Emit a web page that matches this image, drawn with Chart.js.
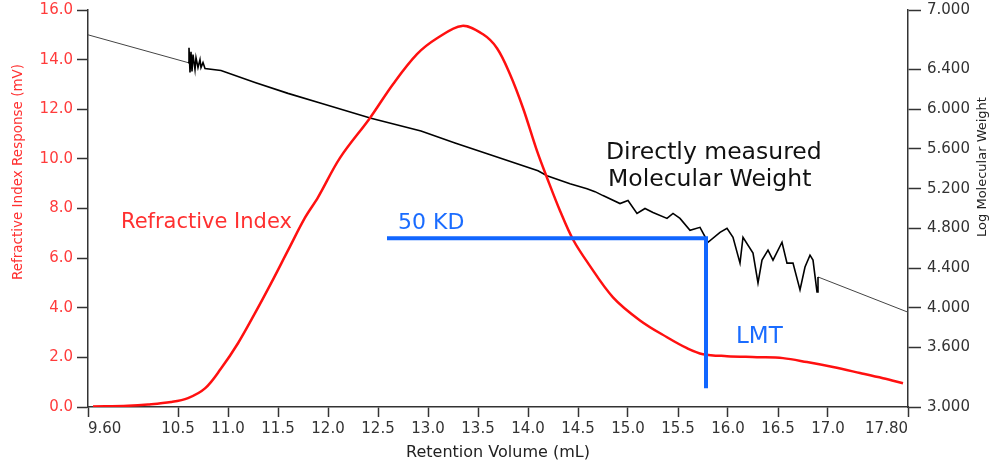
<!DOCTYPE html>
<html>
<head>
<meta charset="utf-8">
<script src="https://cdn.jsdelivr.net/npm/chart.js@4"></script>
<style>
  body { margin: 0; background: #fff; }
  canvas { display: block; }
</style>
</head>
<body>
<canvas id="myChart" width="992" height="463"></canvas>
<script>
// refractive index trace (left axis, mV)
const riVolume = [9.65, 10.0, 10.2, 10.43, 10.6, 10.77, 10.93, 11.1, 11.27, 11.43, 11.6, 11.77, 11.9, 12.12, 12.42, 12.65, 12.89, 13.09, 13.34,
    13.55, 13.69, 13.82, 13.95, 14.09, 14.19, 14.32, 14.45, 14.6, 14.85, 15.12, 15.39, 15.59, 15.75, 15.99, 16.29, 16.55, 16.79, 17.05, 17.32, 17.55, 17.75];
const riResponse = [0.02, 0.05, 0.1, 0.2, 0.36, 0.75, 1.55, 2.57, 3.78, 4.98, 6.31, 7.63, 8.45, 10.04, 11.65, 13.01, 14.22, 14.86, 15.36,
    15.02, 14.46, 13.41, 12.05, 10.32, 9.24, 7.91, 6.75, 5.8, 4.42, 3.49, 2.81, 2.37, 2.13, 2.05, 2.01, 1.97, 1.81, 1.61, 1.37, 1.16, 0.96];

// directly measured molecular weight (right axis, log MW)
const mwVolume = [10.6, 10.61, 10.62, 10.63, 10.64, 10.65, 10.67, 10.68, 10.7, 10.72, 10.73, 10.75, 10.77, 10.93, 11.27, 11.6, 11.93, 12.43, 12.93, 13.27, 13.6, 14.1,
    14.19, 14.42, 14.59, 14.67, 14.75, 14.92, 15.0, 15.09, 15.17, 15.25, 15.39, 15.45, 15.52, 15.62, 15.72, 15.8, 15.92, 15.99, 16.05, 16.12, 16.15, 16.25, 16.3, 16.34,
    16.4, 16.45, 16.54, 16.59, 16.65, 16.72, 16.77, 16.82, 16.85, 16.89, 16.9];
const mwLog = [6.47, 6.62, 6.37, 6.58, 6.38, 6.55, 6.4, 6.52, 6.42, 6.5, 6.42, 6.47, 6.41, 6.39, 6.27, 6.16, 6.06, 5.91, 5.78, 5.66, 5.55, 5.38,
    5.33, 5.25, 5.2, 5.17, 5.13, 5.05, 5.08, 4.95, 5.0, 4.96, 4.9, 4.95, 4.9, 4.78, 4.81, 4.66, 4.76, 4.8, 4.71, 4.45, 4.71, 4.55, 4.25, 4.48,
    4.58, 4.48, 4.66, 4.45, 4.45, 4.18, 4.41, 4.53, 4.48, 4.16, 4.31];

// calibration extrapolation on both sides of the measured range (right axis)
const fitVolume = [9.6, 10.6, null, 16.9, 17.8];
const fitLog = [6.75, 6.47, null, 4.31, 3.955];

// 50 KD / LMT marker (left axis)
const markVolume = [12.59, 15.78, 15.78];
const markResponse = [6.8, 6.8, 0.76];

const xTicks = [9.6, 10.5, 11.0, 11.5, 12.0, 12.5, 13.0, 13.5, 14.0, 14.5, 15.0, 15.5, 16.0, 16.5, 17.0, 17.8];
const xTickLabels = ['9.60', '10.5', '11.0', '11.5', '12.0', '12.5', '13.0', '13.5', '14.0', '14.5', '15.0', '15.5', '16.0', '16.5', '17.0', '17.80'];
const y2Ticks = [3.0, 3.6, 4.0, 4.4, 4.8, 5.2, 5.6, 6.0, 6.4, 7.0];

const pts = (xs, ys) => xs.map((v, i) => ({x: v, y: ys[i]}));

const FONT = "'DejaVu Sans', sans-serif";
Chart.defaults.font.family = FONT;

const notes = [
    {text: 'Refractive Index', x: 9.93, y: 7.23, size: 21, color: '#ff3030'},
    {text: 'Directly measured', x: 14.78, y: 10.0, size: 23.5, color: '#111'},
    {text: 'Molecular Weight', x: 14.80, y: 8.92, size: 23.5, color: '#111'},
    {text: '50 KD', x: 12.70, y: 7.19, size: 22, color: '#1a6cff'},
    {text: 'LMT', x: 16.08, y: 2.57, size: 23, color: '#1a6cff'},
];

const notesPlugin = {
    id: 'notes',
    afterDraw(chart) {
        const {ctx, scales} = chart;
        ctx.save();
        ctx.textAlign = 'left';
        ctx.textBaseline = 'alphabetic';
        notes.forEach(n => {
            ctx.font = n.size + 'px ' + FONT;
            ctx.fillStyle = n.color;
            ctx.fillText(n.text, scales.x.getPixelForValue(n.x), scales.y.getPixelForValue(n.y));
        });
        // vertical axis titles
        ctx.textAlign = 'center';
        ctx.textBaseline = 'middle';
        ctx.font = '13.5px ' + FONT;
        ctx.fillStyle = '#ff3030';
        ctx.translate(18, 172);
        ctx.rotate(-Math.PI / 2);
        ctx.fillText('Refractive Index Response (mV)', 0, 0);
        ctx.setTransform(1, 0, 0, 1, 0, 0);
        ctx.font = '13px ' + FONT;
        ctx.fillStyle = '#222';
        ctx.translate(983, 167);
        ctx.rotate(-Math.PI / 2);
        ctx.fillText('Log Molecular Weight', 0, 0);
        ctx.restore();
    }
};

const axisGrid = len => ({drawOnChartArea: false, drawTicks: true, tickLength: len, tickColor: '#333', tickWidth: 1.5});
const axisBorder = {display: true, color: '#333', width: 1.5};
const fitVertical = w => axis => { axis.width = w; axis.paddingTop = 0; axis.paddingBottom = 0; };

const config = {
    type: 'line',
    data: {
        datasets: [
            {
                label: 'LMT marker',
                data: pts(markVolume, markResponse),
                yAxisID: 'y',
                borderColor: '#1166ff',
                borderWidth: 4,
                pointRadius: 0,
                tension: 0,
            },
            {
                label: 'Refractive Index',
                data: pts(riVolume, riResponse),
                yAxisID: 'y',
                borderColor: '#ff1010',
                borderWidth: 2.5,
                pointRadius: 0,
                tension: 0.35,
            },
            {
                label: 'Molecular Weight',
                data: pts(mwVolume, mwLog),
                yAxisID: 'y2',
                borderColor: '#000',
                borderWidth: 1.6,
                pointRadius: 0,
                tension: 0,
            },
            {
                label: 'Calibration',
                data: pts(fitVolume, fitLog),
                yAxisID: 'y2',
                borderColor: '#444',
                borderWidth: 1,
                pointRadius: 0,
                tension: 0,
                spanGaps: false,
            },
        ]
    },
    options: {
        responsive: false,
        animation: false,
        devicePixelRatio: 1,
        layout: {padding: {top: 10}},
        plugins: {legend: {display: false}, tooltip: {enabled: false}},
        scales: {
            x: {
                type: 'linear',
                position: 'bottom',
                min: 9.6,
                max: 17.8,
                afterBuildTicks: axis => { axis.ticks = xTicks.map(v => ({value: v})); },
                afterFit: axis => { axis.height = 56; axis.paddingLeft = 0; axis.paddingRight = 0; },
                grid: axisGrid(10),
                border: axisBorder,
                ticks: {
                    color: '#333',
                    font: {size: 15},
                    padding: 3,
                    align: 'inner',
                    maxRotation: 0,
                    autoSkip: false,
                    callback: (v, i) => xTickLabels[i],
                },
                title: {display: true, text: 'Retention Volume (mL)', color: '#222', font: {size: 16}, padding: {top: 0, bottom: 1}},
            },
            y: {
                type: 'linear',
                position: 'left',
                min: 0,
                max: 16,
                afterFit: fitVertical(88),
                grid: axisGrid(11),
                border: axisBorder,
                ticks: {
                    stepSize: 2,
                    color: '#ff3b3b',
                    font: {size: 15},
                    padding: 4,
                    callback: v => v.toFixed(1),
                },
            },
            y2: {
                type: 'linear',
                position: 'right',
                min: 3,
                max: 7,
                afterBuildTicks: axis => { axis.ticks = y2Ticks.map(v => ({value: v})); },
                afterFit: fitVertical(84),
                grid: axisGrid(13),
                border: axisBorder,
                ticks: {
                    color: '#333',
                    font: {size: 15},
                    padding: 6,
                    autoSkip: false,
                    callback: v => v.toFixed(3),
                },
            },
        }
    },
    plugins: [notesPlugin]
};

const myChart = new Chart(document.getElementById('myChart'), config);
</script>
</body>
</html>
